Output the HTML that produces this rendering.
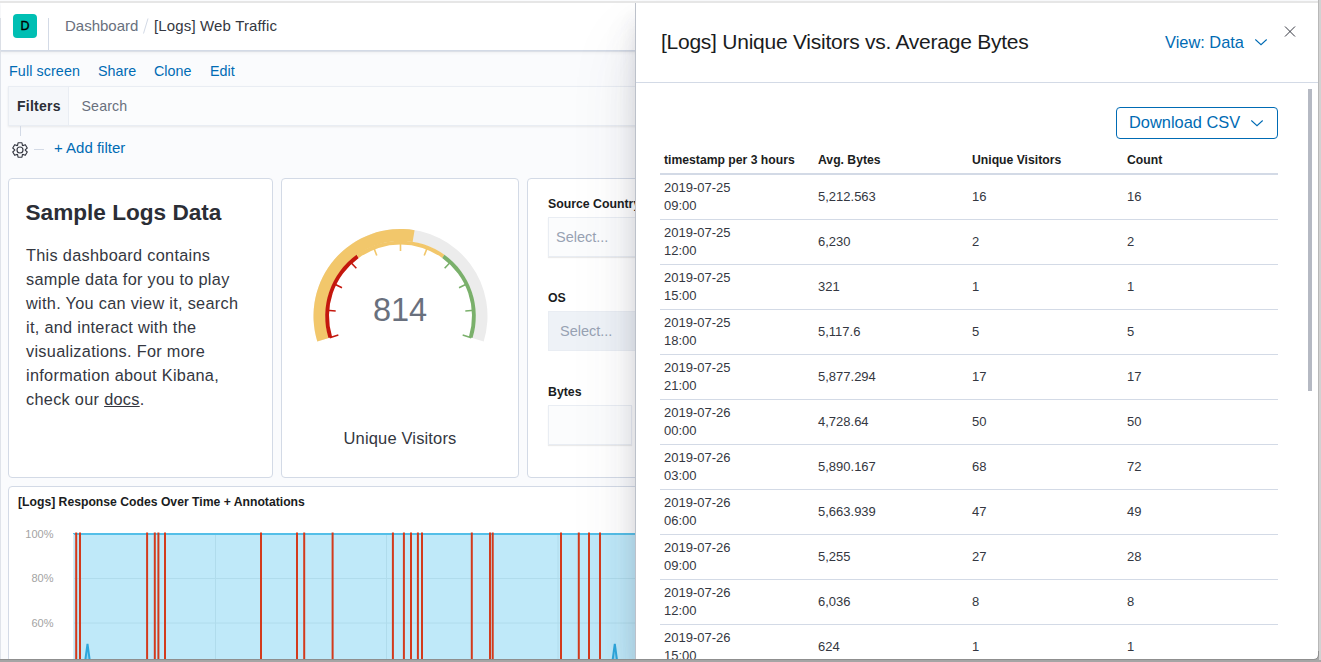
<!DOCTYPE html>
<html><head><meta charset="utf-8">
<style>
*{box-sizing:border-box;margin:0;padding:0}
html,body{width:1321px;height:662px;overflow:hidden}
body{position:relative;background:#fafbfd;font-family:"Liberation Sans",sans-serif;color:#343741}
.a{position:absolute}
.t{position:absolute;white-space:nowrap;line-height:1}
.lnk{color:#006bb4}
</style></head><body>

<!-- left edge -->
<div class="a" style="left:0;top:18px;width:1px;height:644px;background:#dfe3ea"></div>

<!-- header -->
<div class="a" style="left:1px;top:3px;width:1320px;height:48px;background:#fff;border-bottom:1px solid #d3dae6;box-shadow:0 1px 0 #dce0e7,0 2px 3px rgba(0,0,0,.05)"></div>
<div class="a" style="left:13px;top:14px;width:24px;height:24px;border-radius:4px;background:#00bfb3"></div>
<div class="t" style="left:13px;top:19.5px;width:24px;text-align:center;font-size:12.5px;-webkit-text-stroke:0.35px #000;color:#000">D</div>
<div class="a" style="left:48px;top:18px;width:1px;height:33px;background:#d3dae6"></div>
<div class="t" style="left:65px;top:18px;font-size:15px;color:#69707d">Dashboard</div>
<svg class="a" style="left:140px;top:16px" width="12" height="20"><line x1="8" y1="2.5" x2="3.5" y2="17.5" stroke="#d3dae6" stroke-width="1"/></svg>
<div class="t" style="left:154px;top:18px;font-size:15px;letter-spacing:0.15px;color:#343741">[Logs] Web Traffic</div>

<!-- top menu -->
<div class="t lnk" style="left:9px;top:64px;font-size:14.3px;letter-spacing:0.1px">Full screen</div>
<div class="t lnk" style="left:98px;top:64px;font-size:14.3px">Share</div>
<div class="t lnk" style="left:154px;top:64px;font-size:14.3px">Clone</div>
<div class="t lnk" style="left:210px;top:64px;font-size:14.3px">Edit</div>

<!-- filter bar -->
<div class="a" style="left:8px;top:86px;width:700px;height:40px;background:#fbfcfd;border:1px solid #e9edf3;box-shadow:0 1px 2px rgba(0,0,0,.08)"></div>
<div class="a" style="left:9px;top:87px;width:60px;height:38px;background:#f5f7fa;border-right:1px solid #e9edf3"></div>
<div class="t" style="left:17px;top:99px;font-size:14px;font-weight:bold;letter-spacing:0.25px;color:#2b2e36">Filters</div>
<div class="t" style="left:81.5px;top:99px;font-size:14.2px;letter-spacing:0.15px;color:#69707d">Search</div>
<div class="a" style="left:20px;top:126px;width:1px;height:10px;background:#d3dae6"></div>
<svg class="a" style="left:10px;top:140px" width="20" height="20" viewBox="0 0 20 20"><circle cx="10" cy="10" r="3" fill="none" stroke="#343741" stroke-width="1.15"/><path d="M7.56 5.41 L8.06 2.76 L11.94 2.76 L12.44 5.41 L12.76 5.59 L15.30 4.70 L17.24 8.06 L15.20 9.82 L15.20 10.18 L17.24 11.94 L15.30 15.30 L12.76 14.41 L12.44 14.59 L11.94 17.24 L8.06 17.24 L7.56 14.59 L7.24 14.41 L4.70 15.30 L2.76 11.94 L4.80 10.18 L4.80 9.82 L2.76 8.06 L4.70 4.70 L7.24 5.59Z" fill="none" stroke="#343741" stroke-width="1.15" stroke-linejoin="round"/></svg>
<div class="a" style="left:34px;top:149px;width:10px;height:1px;background:#d3dae6"></div>
<div class="t lnk" style="left:54px;top:140px;font-size:15px">+ Add filter</div>

<!-- panel 1 -->
<div class="a" style="left:8px;top:178px;width:265px;height:300px;background:#fff;border:1px solid #d3dae6;border-radius:4px"></div>
<div class="t" style="left:25.5px;top:201.5px;font-size:22.6px;font-weight:bold;color:#2b2e36">Sample Logs Data</div>
<div class="a" style="left:26px;top:242.5px;font-size:16.3px;line-height:24px;letter-spacing:0.3px;color:#343741;white-space:nowrap">This dashboard contains<br>sample data for you to play<br>with. You can view it, search<br>it, and interact with the<br>visualizations. For more<br>information about Kibana,<br>check our <span style="text-decoration:underline">docs</span>.</div>

<!-- panel 2 gauge -->
<div class="a" style="left:281px;top:178px;width:238px;height:300px;background:#fff;border:1px solid #d3dae6;border-radius:4px"></div>
<svg class="a" style="left:281px;top:178px" width="238" height="300"><path d="M36.30 163.44A87 87 0 1 1 202.70 163.44L191.22 159.93A75 75 0 1 0 47.78 159.93Z" fill="#ececec"/><path d="M36.30 163.44A87 87 0 0 1 133.56 52.14L131.62 63.99A75 75 0 0 0 47.78 159.93Z" fill="#f2c76b"/><path d="M47.49 160.02A75.3 75.3 0 0 1 75.59 76.82L77.81 79.91A71.5 71.5 0 0 0 51.12 158.90Z" fill="#c4170d"/><path d="M75.59 76.82A75.3 75.3 0 0 1 163.41 76.82L161.19 79.91A71.5 71.5 0 0 0 77.81 79.91Z" fill="#f2c76b"/><path d="M163.41 76.82A75.3 75.3 0 0 1 191.51 160.02L187.88 158.90A71.5 71.5 0 0 0 161.19 79.91Z" fill="#7ab06b"/><line x1="48.73" y1="159.64" x2="57.34" y2="157.00" stroke="#c4170d" stroke-width="1.6"/><line x1="45.72" y1="132.32" x2="54.69" y2="133.01" stroke="#c4170d" stroke-width="1.6"/><line x1="52.88" y1="105.79" x2="60.98" y2="109.71" stroke="#c4170d" stroke-width="1.6"/><line x1="69.22" y1="83.70" x2="75.34" y2="90.31" stroke="#c4170d" stroke-width="1.6"/><line x1="92.50" y1="69.10" x2="95.78" y2="77.48" stroke="#f2c76b" stroke-width="1.6"/><line x1="119.50" y1="64.00" x2="119.50" y2="73.00" stroke="#f2c76b" stroke-width="1.6"/><line x1="146.50" y1="69.10" x2="143.22" y2="77.48" stroke="#f2c76b" stroke-width="1.6"/><line x1="169.78" y1="83.70" x2="163.66" y2="90.31" stroke="#7ab06b" stroke-width="1.6"/><line x1="186.12" y1="105.79" x2="178.02" y2="109.71" stroke="#7ab06b" stroke-width="1.6"/><line x1="193.28" y1="132.32" x2="184.31" y2="133.01" stroke="#7ab06b" stroke-width="1.6"/><line x1="190.27" y1="159.64" x2="181.66" y2="157.00" stroke="#7ab06b" stroke-width="1.6"/></svg>
<div class="t" style="left:281px;top:294px;width:238px;text-align:center;font-size:32.5px;color:#69707d">814</div>
<div class="t" style="left:281px;top:430px;width:238px;text-align:center;font-size:16.5px;letter-spacing:0.15px;color:#343741">Unique Visitors</div>

<!-- panel 3 controls -->
<div class="a" style="left:527px;top:178px;width:300px;height:300px;background:#fff;border:1px solid #d3dae6;border-radius:4px"></div>
<div class="t" style="left:548px;top:198px;font-size:12.3px;font-weight:bold;color:#1a1c21">Source Country</div>
<div class="a" style="left:548px;top:217px;width:200px;height:40px;background:#fbfcfd;border:1px solid #e9edf3;box-shadow:0 1px 1px rgba(0,0,0,.08)"></div>
<div class="t" style="left:556px;top:230px;font-size:14.5px;color:#98a2b3">Select...</div>
<div class="t" style="left:548px;top:292px;font-size:12.3px;font-weight:bold;color:#1a1c21">OS</div>
<div class="a" style="left:548px;top:311px;width:200px;height:40px;background:#eef2f7;border:1px solid #e9edf3"></div>
<div class="t" style="left:560px;top:324px;font-size:14.5px;color:#98a2b3">Select...</div>
<div class="t" style="left:548px;top:386px;font-size:12.3px;font-weight:bold;color:#1a1c21">Bytes</div>
<div class="a" style="left:548px;top:405px;width:84px;height:40px;background:#fbfcfd;border:1px solid #e9edf3;box-shadow:0 1px 1px rgba(0,0,0,.08)"></div>

<!-- panel 4 chart -->
<div class="a" style="left:8px;top:486px;width:800px;height:200px;background:#fff;border:1px solid #d3dae6;border-radius:4px"></div>
<div class="t" style="left:18px;top:496px;font-size:12.2px;font-weight:bold;color:#1a1c21">[Logs] Response Codes Over Time + Annotations</div>
<svg class="a" style="left:0;top:486px" width="700" height="180"><rect x="73" y="48" width="600" height="200" fill="#bfe9f9"/><line x1="215.5" y1="48" x2="215.5" y2="200" stroke="#b0dcec" stroke-width="1"/><line x1="386.5" y1="48" x2="386.5" y2="200" stroke="#b0dcec" stroke-width="1"/><line x1="558" y1="48" x2="558" y2="200" stroke="#b0dcec" stroke-width="1"/><line x1="73" y1="92.5" x2="673" y2="92.5" stroke="#b0dcec" stroke-width="1"/><line x1="73" y1="137.0" x2="673" y2="137.0" stroke="#b0dcec" stroke-width="1"/><line x1="73" y1="48" x2="673" y2="48" stroke="#54bfe8" stroke-width="2"/><line x1="73.5" y1="48" x2="73.5" y2="200" stroke="#d8eef7" stroke-width="1"/><path d="M84.5 180 L87.5 157.79999999999995 L90.5 180" fill="#8fd3f0" stroke="#2ea7dc" stroke-width="2"/><path d="M611.8 180 L614.8 157.79999999999995 L617.8 180" fill="#8fd3f0" stroke="#2ea7dc" stroke-width="2"/><line x1="76.2" y1="46.5" x2="76.2" y2="200" stroke="#d33a1c" stroke-width="2"/><line x1="80" y1="46.5" x2="80" y2="200" stroke="#d33a1c" stroke-width="2"/><line x1="147.1" y1="46.5" x2="147.1" y2="200" stroke="#d33a1c" stroke-width="2"/><line x1="154.8" y1="46.5" x2="154.8" y2="200" stroke="#d33a1c" stroke-width="2"/><line x1="158.4" y1="46.5" x2="158.4" y2="200" stroke="#d33a1c" stroke-width="2"/><line x1="165" y1="46.5" x2="165" y2="200" stroke="#d33a1c" stroke-width="2"/><line x1="261" y1="46.5" x2="261" y2="200" stroke="#d33a1c" stroke-width="2"/><line x1="297" y1="46.5" x2="297" y2="200" stroke="#d33a1c" stroke-width="2"/><line x1="304.2" y1="46.5" x2="304.2" y2="200" stroke="#d33a1c" stroke-width="2"/><line x1="332.6" y1="46.5" x2="332.6" y2="200" stroke="#d33a1c" stroke-width="2"/><line x1="392.9" y1="46.5" x2="392.9" y2="200" stroke="#d33a1c" stroke-width="2"/><line x1="403.9" y1="46.5" x2="403.9" y2="200" stroke="#d33a1c" stroke-width="2"/><line x1="411" y1="46.5" x2="411" y2="200" stroke="#d33a1c" stroke-width="2"/><line x1="417.9" y1="46.5" x2="417.9" y2="200" stroke="#d33a1c" stroke-width="2"/><line x1="422" y1="46.5" x2="422" y2="200" stroke="#d33a1c" stroke-width="2"/><line x1="471.8" y1="46.5" x2="471.8" y2="200" stroke="#d33a1c" stroke-width="2"/><line x1="490" y1="46.5" x2="490" y2="200" stroke="#d33a1c" stroke-width="2"/><line x1="492.7" y1="46.5" x2="492.7" y2="200" stroke="#d33a1c" stroke-width="2"/><line x1="561" y1="46.5" x2="561" y2="200" stroke="#d33a1c" stroke-width="2"/><line x1="578.8" y1="46.5" x2="578.8" y2="200" stroke="#d33a1c" stroke-width="2"/><line x1="589" y1="46.5" x2="589" y2="200" stroke="#d33a1c" stroke-width="2"/><line x1="600" y1="46.5" x2="600" y2="200" stroke="#d33a1c" stroke-width="2"/><text x="53.5" y="52.0" text-anchor="end" font-family="Liberation Sans" font-size="11" fill="#a3a3a3">100%</text><text x="53.5" y="96.0" text-anchor="end" font-family="Liberation Sans" font-size="11" fill="#a3a3a3">80%</text><text x="53.5" y="140.5" text-anchor="end" font-family="Liberation Sans" font-size="11" fill="#a3a3a3">60%</text></svg>

<!-- flyout shadow -->
<div class="a" style="left:635px;top:3px;width:683px;height:656px;background:#fff;box-shadow:0 40px 64px 0 rgba(64,71,86,.1),0 24px 32px 0 rgba(64,71,86,.1),0 16px 16px 0 rgba(64,71,86,.1);border-left:1px solid #bcc1ca"></div>
<!-- flyout -->
<div id="fly" class="a" style="left:636px;top:3px;width:682px;height:656px;background:#fff;border-radius:0 0 4px 0;overflow:hidden"><div class="a" style="left:1px;top:0;width:681px;height:656px"><div class="t" style="left:24px;top:28px;font-size:21px;letter-spacing:-0.25px;color:#1a1c21">[Logs] Unique Visitors vs. Average Bytes</div><div class="t lnk" style="left:528px;top:30.5px;font-size:16.4px">View: Data</div><svg class="a" style="left:618px;top:35px" width="13" height="8" viewBox="0 0 13 8"><path d="M0.3 1.5L6 6.7L11.7 1.5" fill="none" stroke="#006bb4" stroke-width="1.1"/></svg><svg class="a" style="left:647px;top:23px" width="12" height="12" viewBox="0 0 12 12"><path d="M1 0.5l10 10M11 0.5L1 10.5" fill="none" stroke="#343741" stroke-width="1"/></svg><div class="a" style="left:-1px;top:79px;width:682px;height:1px;background:#d3dae6"></div><div class="a" style="left:671px;top:86px;width:4px;height:302px;background:#b5b9c3"></div><div class="a" style="left:479px;top:104px;width:162px;height:32px;border:1px solid #006bb4;border-radius:4px"></div><div class="t lnk" style="left:492px;top:110.5px;font-size:16.4px">Download CSV</div><svg class="a" style="left:614px;top:116px" width="13" height="8" viewBox="0 0 13 8"><path d="M0.3 1.5L6 6.7L11.7 1.5" fill="none" stroke="#006bb4" stroke-width="1.1"/></svg><div class="t" style="left:27px;top:150.5px;font-size:12.2px;font-weight:bold;color:#1a1c21">timestamp per 3 hours</div><div class="t" style="left:181px;top:150.5px;font-size:12.2px;font-weight:bold;color:#1a1c21">Avg. Bytes</div><div class="t" style="left:335px;top:150.5px;font-size:12.2px;font-weight:bold;color:#1a1c21">Unique Visitors</div><div class="t" style="left:490px;top:150.5px;font-size:12.2px;font-weight:bold;color:#1a1c21">Count</div><div class="a" style="left:23px;top:170px;width:618px;height:2px;background:#d3dae6"></div><div class="t" style="left:27px;top:176px;font-size:13px;line-height:18px;color:#343741">2019-07-25<br>09:00</div><div class="t" style="left:181px;top:184.5px;font-size:13px;line-height:17.5px;color:#343741">5,212.563</div><div class="t" style="left:335px;top:184.5px;font-size:13px;line-height:17.5px;color:#343741">16</div><div class="t" style="left:490px;top:184.5px;font-size:13px;line-height:17.5px;color:#343741">16</div><div class="a" style="left:23px;top:216px;width:618px;height:1px;background:#d3dae6"></div><div class="t" style="left:27px;top:221px;font-size:13px;line-height:18px;color:#343741">2019-07-25<br>12:00</div><div class="t" style="left:181px;top:229.5px;font-size:13px;line-height:17.5px;color:#343741">6,230</div><div class="t" style="left:335px;top:229.5px;font-size:13px;line-height:17.5px;color:#343741">2</div><div class="t" style="left:490px;top:229.5px;font-size:13px;line-height:17.5px;color:#343741">2</div><div class="a" style="left:23px;top:261px;width:618px;height:1px;background:#d3dae6"></div><div class="t" style="left:27px;top:266px;font-size:13px;line-height:18px;color:#343741">2019-07-25<br>15:00</div><div class="t" style="left:181px;top:274.5px;font-size:13px;line-height:17.5px;color:#343741">321</div><div class="t" style="left:335px;top:274.5px;font-size:13px;line-height:17.5px;color:#343741">1</div><div class="t" style="left:490px;top:274.5px;font-size:13px;line-height:17.5px;color:#343741">1</div><div class="a" style="left:23px;top:306px;width:618px;height:1px;background:#d3dae6"></div><div class="t" style="left:27px;top:311px;font-size:13px;line-height:18px;color:#343741">2019-07-25<br>18:00</div><div class="t" style="left:181px;top:319.5px;font-size:13px;line-height:17.5px;color:#343741">5,117.6</div><div class="t" style="left:335px;top:319.5px;font-size:13px;line-height:17.5px;color:#343741">5</div><div class="t" style="left:490px;top:319.5px;font-size:13px;line-height:17.5px;color:#343741">5</div><div class="a" style="left:23px;top:351px;width:618px;height:1px;background:#d3dae6"></div><div class="t" style="left:27px;top:356px;font-size:13px;line-height:18px;color:#343741">2019-07-25<br>21:00</div><div class="t" style="left:181px;top:364.5px;font-size:13px;line-height:17.5px;color:#343741">5,877.294</div><div class="t" style="left:335px;top:364.5px;font-size:13px;line-height:17.5px;color:#343741">17</div><div class="t" style="left:490px;top:364.5px;font-size:13px;line-height:17.5px;color:#343741">17</div><div class="a" style="left:23px;top:396px;width:618px;height:1px;background:#d3dae6"></div><div class="t" style="left:27px;top:401px;font-size:13px;line-height:18px;color:#343741">2019-07-26<br>00:00</div><div class="t" style="left:181px;top:409.5px;font-size:13px;line-height:17.5px;color:#343741">4,728.64</div><div class="t" style="left:335px;top:409.5px;font-size:13px;line-height:17.5px;color:#343741">50</div><div class="t" style="left:490px;top:409.5px;font-size:13px;line-height:17.5px;color:#343741">50</div><div class="a" style="left:23px;top:441px;width:618px;height:1px;background:#d3dae6"></div><div class="t" style="left:27px;top:446px;font-size:13px;line-height:18px;color:#343741">2019-07-26<br>03:00</div><div class="t" style="left:181px;top:454.5px;font-size:13px;line-height:17.5px;color:#343741">5,890.167</div><div class="t" style="left:335px;top:454.5px;font-size:13px;line-height:17.5px;color:#343741">68</div><div class="t" style="left:490px;top:454.5px;font-size:13px;line-height:17.5px;color:#343741">72</div><div class="a" style="left:23px;top:486px;width:618px;height:1px;background:#d3dae6"></div><div class="t" style="left:27px;top:491px;font-size:13px;line-height:18px;color:#343741">2019-07-26<br>06:00</div><div class="t" style="left:181px;top:499.5px;font-size:13px;line-height:17.5px;color:#343741">5,663.939</div><div class="t" style="left:335px;top:499.5px;font-size:13px;line-height:17.5px;color:#343741">47</div><div class="t" style="left:490px;top:499.5px;font-size:13px;line-height:17.5px;color:#343741">49</div><div class="a" style="left:23px;top:531px;width:618px;height:1px;background:#d3dae6"></div><div class="t" style="left:27px;top:536px;font-size:13px;line-height:18px;color:#343741">2019-07-26<br>09:00</div><div class="t" style="left:181px;top:544.5px;font-size:13px;line-height:17.5px;color:#343741">5,255</div><div class="t" style="left:335px;top:544.5px;font-size:13px;line-height:17.5px;color:#343741">27</div><div class="t" style="left:490px;top:544.5px;font-size:13px;line-height:17.5px;color:#343741">28</div><div class="a" style="left:23px;top:576px;width:618px;height:1px;background:#d3dae6"></div><div class="t" style="left:27px;top:581px;font-size:13px;line-height:18px;color:#343741">2019-07-26<br>12:00</div><div class="t" style="left:181px;top:589.5px;font-size:13px;line-height:17.5px;color:#343741">6,036</div><div class="t" style="left:335px;top:589.5px;font-size:13px;line-height:17.5px;color:#343741">8</div><div class="t" style="left:490px;top:589.5px;font-size:13px;line-height:17.5px;color:#343741">8</div><div class="a" style="left:23px;top:621px;width:618px;height:1px;background:#d3dae6"></div><div class="t" style="left:27px;top:626px;font-size:13px;line-height:18px;color:#343741">2019-07-26<br>15:00</div><div class="t" style="left:181px;top:634.5px;font-size:13px;line-height:17.5px;color:#343741">624</div><div class="t" style="left:335px;top:634.5px;font-size:13px;line-height:17.5px;color:#343741">1</div><div class="t" style="left:490px;top:634.5px;font-size:13px;line-height:17.5px;color:#343741">1</div><div class="a" style="left:23px;top:666px;width:618px;height:1px;background:#d3dae6"></div></div></div>

<!-- frame -->
<div class="a" style="left:0;top:1px;width:1321px;height:2px;background:#e6e6e6"></div>
<div class="a" style="left:1318px;top:0;width:1px;height:662px;background:#b8b8b8"></div>
<div class="a" style="left:1319px;top:0;width:2px;height:662px;background:#d2d2d2"></div>
<div class="a" style="left:0;top:659px;width:1321px;height:1px;background:#8f8f8f"></div>
<div class="a" style="left:0;top:660px;width:1321px;height:2px;background:#a5a5a5"></div>
<svg class="a" style="left:1310px;top:651px" width="11" height="11"><path d="M8 0H11V11H0V8H4A4 4 0 0 0 8 4Z" fill="#a8a8a8"/><path d="M0 8.5H4A4.5 4.5 0 0 0 8.5 4V0" fill="none" stroke="#8f8f8f" stroke-width="1"/><rect x="9" y="0" width="2" height="9" fill="#d2d2d2"/></svg>

</body></html>
